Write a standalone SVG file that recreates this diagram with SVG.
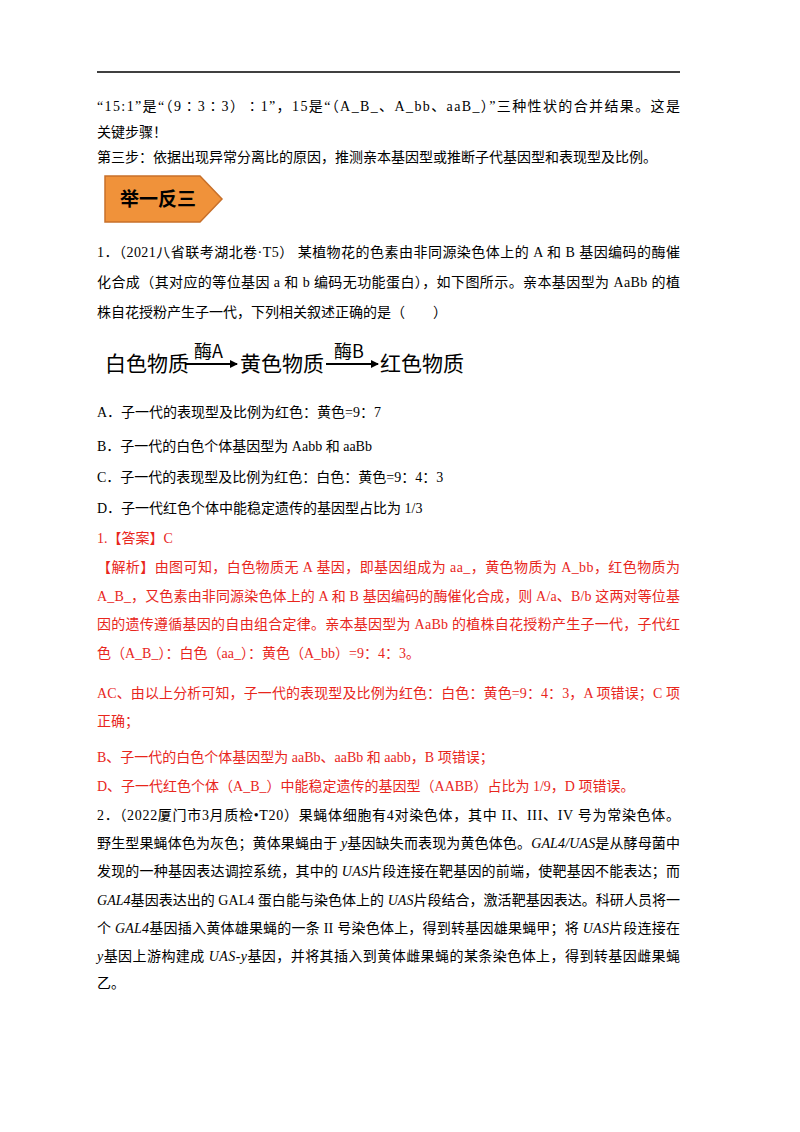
<svg xmlns="http://www.w3.org/2000/svg" width="800" height="1132" viewBox="0 0 800 1132">
<style>
text{font-family:"Liberation Serif","Noto Sans CJK SC",serif;font-size:14px;fill:#000}
.r{fill:#e8261c}
.d{font-family:"Noto Sans CJK SC","Liberation Sans",sans-serif;font-size:21px}
.e{font-family:"Noto Sans CJK SC","Liberation Sans",sans-serif;font-size:18px}
.b{font-family:"Noto Sans CJK SC",sans-serif;font-size:19px;font-weight:bold}
.i{font-style:italic}
</style>
<defs><marker id="ah" markerWidth="8" markerHeight="8" refX="7" refY="4" orient="auto" markerUnits="userSpaceOnUse"><path d="M0,0 L8,4 L0,8 Z" fill="#000"/></marker></defs>
<rect width="800" height="1132" fill="#fff"/>
<line x1="97" y1="72" x2="680" y2="72" stroke="#000" stroke-width="1.5"/>
<text x="97" y="111" textLength="583">“15:1”是“（9∶3∶3）∶1”，15是“（A_B_、A_bb、aaB_）”三种性状的合并结果。这是</text>
<text x="97" y="137">关键步骤！</text>
<text x="97" y="162">第三步：依据出现异常分离比的原因，推测亲本基因型或推断子代基因型和表现型及比例。</text>
<g id="banner">
<polygon points="105,176 200,176 222,199 200,222 105,222" fill="#f0923a" stroke="#c8702a" stroke-width="1.5"/>
<text class="b" x="120" y="206">举一反三</text>
</g>
<text x="97" y="257" textLength="583">1．（2021八省联考湖北卷·T5） 某植物花的色素由非同源染色体上的 A 和 B 基因编码的酶催</text>
<text x="97" y="287" textLength="583">化合成（其对应的等位基因 a 和 b 编码无功能蛋白），如下图所示。亲本基因型为 AaBb 的植</text>
<text x="97" y="317">株自花授粉产生子一代，下列相关叙述正确的是（　　）</text>
<g id="n1"><text class="d" x="105" y="371">白色物质</text></g>
<g id="n2"><text class="d" x="240" y="371">黄色物质</text></g>
<g id="n3"><text class="d" x="380" y="371">红色物质</text></g>
<g id="connectors">
<line x1="185" y1="364" x2="237" y2="364" stroke="#000" stroke-width="2" marker-end="url(#ah)"/>
<text class="e" x="194" y="358">酶A</text>
<line x1="326" y1="364" x2="378" y2="364" stroke="#000" stroke-width="2" marker-end="url(#ah)"/>
<text class="e" x="334" y="358">酶B</text>
</g>
<text x="97" y="417">A．子一代的表现型及比例为红色：黄色=9：7</text>
<text x="97" y="451">B．子一代的白色个体基因型为 Aabb 和 aaBb</text>
<text x="97" y="482">C．子一代的表现型及比例为红色：白色：黄色=9：4：3</text>
<text x="97" y="513">D．子一代红色个体中能稳定遗传的基因型占比为 1/3</text>
<text class="r" x="97" y="543">1.【答案】C</text>
<text class="r" x="97" y="572" textLength="583">【解析】由图可知，白色物质无 A 基因，即基因组成为 aa_，黄色物质为 A_bb，红色物质为</text>
<text class="r" x="97" y="601" textLength="583">A_B_，又色素由非同源染色体上的 A 和 B 基因编码的酶催化合成，则 A/a、B/b 这两对等位基</text>
<text class="r" x="97" y="629" textLength="583">因的遗传遵循基因的自由组合定律。亲本基因型为 AaBb 的植株自花授粉产生子一代，子代红</text>
<text class="r" x="97" y="658">色（A_B_）：白色（aa_）：黄色（A_bb）=9：4：3。</text>
<text class="r" x="97" y="698" textLength="583">AC、由以上分析可知，子一代的表现型及比例为红色：白色：黄色=9：4：3，A 项错误；C 项</text>
<text class="r" x="97" y="726">正确；</text>
<text class="r" x="97" y="762">B、子一代的白色个体基因型为 aaBb、aaBb 和 aabb，B 项错误；</text>
<text class="r" x="97" y="791">D、子一代红色个体（A_B_）中能稳定遗传的基因型（AABB）占比为 1/9，D 项错误。</text>
<text x="97" y="820" textLength="583">2．（2022厦门市3月质检•T20）果蝇体细胞有4对染色体，其中 II、III、IV 号为常染色体。</text>
<text x="97" y="848" textLength="583">野生型果蝇体色为灰色；黄体果蝇由于 <tspan class="i">y</tspan>基因缺失而表现为黄色体色。<tspan class="i">GAL4/UAS</tspan>是从酵母菌中</text>
<text x="97" y="876" textLength="583">发现的一种基因表达调控系统，其中的 <tspan class="i">UAS</tspan>片段连接在靶基因的前端，使靶基因不能表达；而</text>
<text x="97" y="905" textLength="583"><tspan class="i">GAL4</tspan>基因表达出的 GAL4 蛋白能与染色体上的 <tspan class="i">UAS</tspan>片段结合，激活靶基因表达。科研人员将一</text>
<text x="97" y="933" textLength="583">个 <tspan class="i">GAL4</tspan>基因插入黄体雄果蝇的一条 II 号染色体上，得到转基因雄果蝇甲；将 <tspan class="i">UAS</tspan>片段连接在</text>
<text x="97" y="961" textLength="583"><tspan class="i">y</tspan>基因上游构建成 <tspan class="i">UAS-y</tspan>基因，并将其插入到黄体雌果蝇的某条染色体上，得到转基因雌果蝇</text>
<text x="97" y="988">乙。</text>
</svg>
